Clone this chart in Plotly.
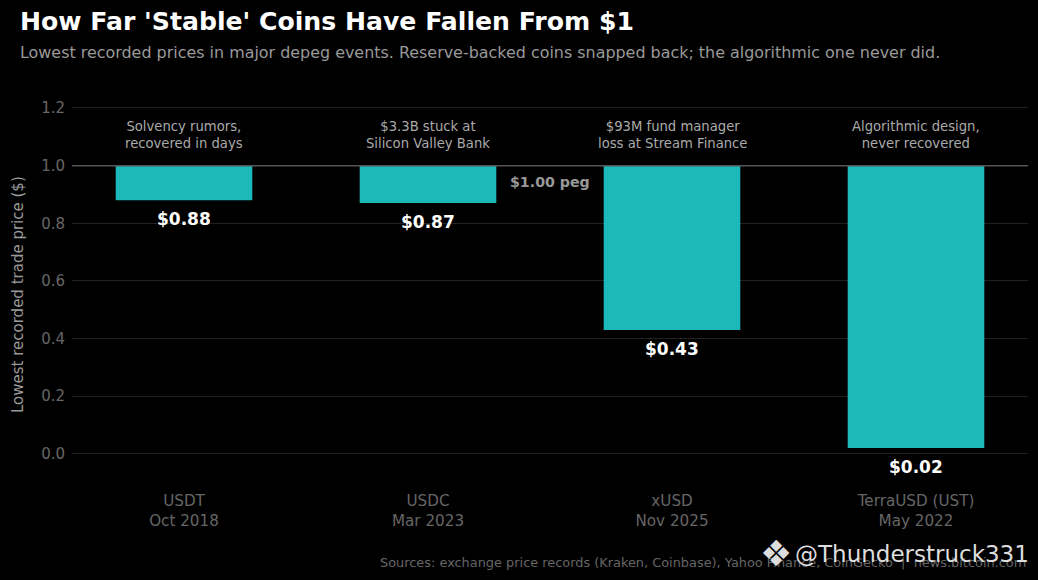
# Stablecoin depeg lows, bars hang down from the $1 peg
import plotly.graph_objects as go

W, H = 1038, 580
LEFT, RIGHT, TOP, BOTTOM = 72, 1028, 93, 483

coins = ['USDT<br>Oct 2018', 'USDC<br>Mar 2023', 'xUSD<br>Nov 2025', 'TerraUSD (UST)<br>May 2022']
low_prices = [0.88, 0.87, 0.43, 0.02]
price_labels = ['$0.88', '$0.87', '$0.43', '$0.02']
notes = ['Solvency rumors,<br>recovered in days', '$3.3B stuck at<br>Silicon Valley Bank',
         '$93M fund manager<br>loss at Stream Finance', 'Algorithmic design,<br>never recovered']
peg = 1.0
y_ticks = [0.0, 0.2, 0.4, 0.6, 0.8, 1.0, 1.2]

FONT = 'DejaVu Sans'


def page_text(x, y, text, size, color, anchor='left', yanchor='middle', **kw):
    # place text by page pixels, paper coords are relative to the plot area
    fig.add_annotation(x=(x - LEFT) / (RIGHT - LEFT), y=1 - (y - TOP) / (BOTTOM - TOP),
                       xref='paper', yref='paper', text=text, showarrow=False,
                       xanchor=anchor, yanchor=yanchor, align=anchor if anchor != 'middle' else 'center',
                       font=dict(family=FONT, size=size, color=color), **kw)


fig = go.Figure()

fig.add_trace(go.Bar(
    x=coins, y=[peg - p for p in low_prices], base=low_prices,
    width=0.56, marker=dict(color='#1DB8B8', line_width=0), showlegend=False, hoverinfo='skip',
))

# peg line
fig.add_hline(y=peg, line=dict(color='#555555', width=1.5), layer='above')

# value labels under the bars, notes above the peg
for coin, p, lab, note in zip(coins, low_prices, price_labels, notes):
    fig.add_annotation(x=coin, y=p, text=f'<b>{lab}</b>', showarrow=False, yanchor='top', yshift=-7,
                       font=dict(family=FONT, size=17, color='white'))
    fig.add_annotation(x=coin, y=peg, text=note, showarrow=False, yanchor='bottom', yshift=13,
                       font=dict(family=FONT, size=13.2, color='#AAAAAA'))

fig.add_annotation(x=1.5, y=peg, text='<b>$1.00 peg</b>', showarrow=False, yanchor='top', yshift=-6,
                   font=dict(family=FONT, size=14.2, color='#999999'))

page_text(18, 21, "<b>How Far 'Stable' Coins Have Fallen From $1</b>", 25.15, 'white')
page_text(18, 53, 'Lowest recorded prices in major depeg events. '
                  'Reserve-backed coins snapped back; the algorithmic one never did.', 15.93, '#999999')
page_text(1028, 562, 'Sources: exchange price records (Kraken, Coinbase), Yahoo Finance, CoinGecko  |  news.bitcoin.com',
          12.9, '#666666', anchor='right')
page_text(18, 295, 'Lowest recorded trade price ($)', 15, '#999999', anchor='center', textangle=-90)

# watermark
page_text(1031, 554, '@Thunderstruck331', 23, '#DDDDDD', anchor='right')
page_text(776, 553, '\u2756', 36, '#DDDDDD', anchor='center')

fig.update_layout(
    width=W, height=H,
    margin=dict(l=LEFT, r=W - RIGHT, t=TOP, b=H - BOTTOM, pad=0),
    paper_bgcolor='#000000', plot_bgcolor='#000000',
    font=dict(family=FONT),
)
fig.update_xaxes(range=[-0.459, 3.459], showgrid=False, zeroline=False, showline=False, ticks='',
                 ticklabelstandoff=7, tickfont=dict(size=15.2, color='#666666', family=FONT))
fig.update_yaxes(range=[-0.101, 1.252], tickvals=y_ticks, tickformat='.1f', gridcolor='#222222', gridwidth=1,
                 zeroline=False, showline=False, ticks='', ticklabelstandoff=6,
                 tickfont=dict(size=15, color='#666666', family=FONT))

# drop the browser's default page margin so the figure fills the window
fig.write_html("out.html", config=dict(displayModeBar=False),
               post_script="document.body.style.margin='0';document.body.style.background='#000';")
